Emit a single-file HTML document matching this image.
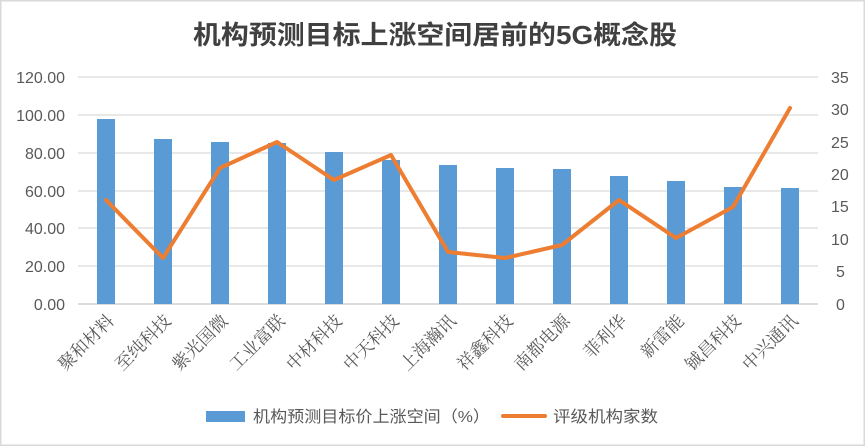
<!DOCTYPE html>
<html><head><meta charset="utf-8"><style>
html,body{margin:0;padding:0;background:#fff;}
svg{display:block;}
</style></head><body>
<svg width="865" height="446" xmlns="http://www.w3.org/2000/svg" font-family="'Liberation Sans','Noto Sans CJK SC',sans-serif">
<rect x="0.5" y="0.5" width="864" height="445" fill="#fff" stroke="#d9d9d9" stroke-width="2"/>
<text x="435" y="44" text-anchor="middle" font-size="26" font-weight="bold" fill="#404040" textLength="484" lengthAdjust="spacingAndGlyphs">机构预测目标上涨空间居前的5G概念股</text>
<g stroke="#e0e0e0" stroke-width="1.5">
<line x1="78" x2="818" y1="77" y2="77"/>
<line x1="78" x2="818" y1="115" y2="115"/>
<line x1="78" x2="818" y1="153" y2="153"/>
<line x1="78" x2="818" y1="191" y2="191"/>
<line x1="78" x2="818" y1="228" y2="228"/>
<line x1="78" x2="818" y1="266" y2="266"/>
</g>
<line x1="78" x2="818" y1="304" y2="304" stroke="#d0d0d0" stroke-width="1.5"/>
<g font-size="16" fill="#595959" text-anchor="end">
<text x="65" y="83">120.00</text>
<text x="65" y="121">100.00</text>
<text x="65" y="159">80.00</text>
<text x="65" y="197">60.00</text>
<text x="65" y="234">40.00</text>
<text x="65" y="272">20.00</text>
<text x="65" y="310">0.00</text>
</g>
<g font-size="16" fill="#595959">
<text x="831" y="83">35</text>
<text x="831" y="115">30</text>
<text x="831" y="148">25</text>
<text x="831" y="180">20</text>
<text x="831" y="212">15</text>
<text x="831" y="245">10</text>
<text x="836" y="277">5</text>
<text x="836" y="310">0</text>
</g>
<g fill="#5b9bd5">
<rect x="97" y="119" width="18" height="185"/>
<rect x="154" y="139" width="18" height="165"/>
<rect x="211" y="142" width="18" height="162"/>
<rect x="268" y="143" width="18" height="161"/>
<rect x="325" y="152" width="18" height="152"/>
<rect x="382" y="160" width="18" height="144"/>
<rect x="439" y="165" width="18" height="139"/>
<rect x="496" y="168" width="18" height="136"/>
<rect x="553" y="169" width="18" height="135"/>
<rect x="610" y="176" width="18" height="128"/>
<rect x="667" y="181" width="18" height="123"/>
<rect x="724" y="187" width="18" height="117"/>
<rect x="781" y="188" width="18" height="116"/>
</g>
<polyline fill="none" stroke="#ed7d31" stroke-width="4" stroke-linejoin="round" stroke-linecap="round" points="106,200 163,258 220,168 277,142 334,180 391,155 448,252 505,258 562,245 619,200 676,238 733,207 790,108"/>
<g font-size="17.5" fill="#595959" font-family="'Liberation Serif','Noto Serif CJK SC',serif" text-anchor="end">
<text transform="translate(115,322) rotate(-45)">聚和材料</text>
<text transform="translate(172,322) rotate(-45)">至纯科技</text>
<text transform="translate(229,322) rotate(-45)">紫光国微</text>
<text transform="translate(286,322) rotate(-45)">工业富联</text>
<text transform="translate(343,322) rotate(-45)">中材科技</text>
<text transform="translate(400,322) rotate(-45)">中天科技</text>
<text transform="translate(457,322) rotate(-45)">上海瀚讯</text>
<text transform="translate(514,322) rotate(-45)">祥鑫科技</text>
<text transform="translate(571,322) rotate(-45)">南都电源</text>
<text transform="translate(628,322) rotate(-45)">菲利华</text>
<text transform="translate(685,322) rotate(-45)">新雷能</text>
<text transform="translate(742,322) rotate(-45)">铖昌科技</text>
<text transform="translate(799,322) rotate(-45)">中兴通讯</text>
</g>
<rect x="206" y="411" width="39" height="11" fill="#5b9bd5"/>
<text x="253" y="422" font-size="16" fill="#595959" textLength="237" lengthAdjust="spacingAndGlyphs">机构预测目标价上涨空间（%）</text>
<line x1="503" x2="545" y1="416" y2="416" stroke="#ed7d31" stroke-width="4" stroke-linecap="round"/>
<text x="553" y="422" font-size="16" fill="#595959" textLength="105" lengthAdjust="spacingAndGlyphs">评级机构家数</text>
</svg>
</body></html>
